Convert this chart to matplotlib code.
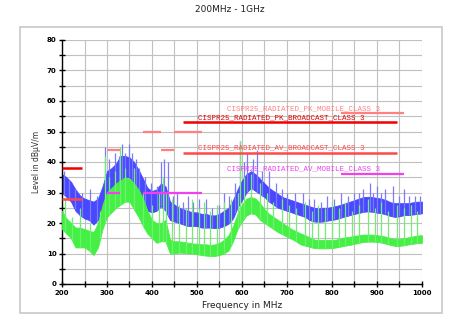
#!/usr/bin/env python3
import numpy as np
import matplotlib
matplotlib.use("Agg")
import matplotlib.pyplot as plt
from matplotlib.patches import Rectangle

# ------------------------------------------------------------------
# Data
# ------------------------------------------------------------------
freq = [200, 210, 220, 230, 240, 250, 260, 270, 280, 290,
        300, 310, 320, 330, 340, 350, 360, 370, 380, 390,
        400, 410, 420, 430, 440, 450, 460, 470, 480, 490,
        500, 510, 520, 530, 540, 550, 560, 570, 580, 590,
        600, 610, 620, 630, 640, 650, 660, 670, 680, 690,
        700, 710, 720, 730, 740, 750, 760, 770, 780, 790,
        800, 810, 820, 830, 840, 850, 860, 870, 880, 890,
        900, 910, 920, 930, 940, 950, 960, 970, 980, 990, 1000]

pk_hi = [36, 35, 33.5, 31, 29, 28, 27.5, 27, 28, 32,
         37, 38, 39.5, 42, 42, 41.5, 40, 37.5, 34.5, 31.5,
         30.5, 31, 33, 32, 27, 26, 25, 24.5, 24, 23.5,
         23.5, 23, 23, 22.5, 22.5, 23, 24, 25, 27.5, 31,
         34, 36, 37, 36, 34.5, 33, 31.5, 30.5, 29.5, 28.5,
         28, 27.5, 27, 26.5, 26, 25.5, 25, 24.8, 25, 25,
         25.3, 25.6, 26, 26.5, 27, 27.5, 28, 28.5, 28.6, 28.5,
         28.2, 28, 27.5, 26.8, 26.5, 26.5, 26.5, 26.5, 26.8, 27, 27]
pk_lo = [30, 28.5, 27, 24, 22.5, 21.5, 21, 19.5, 21, 23,
         27, 30, 32, 34, 35, 35, 33, 30, 26, 24,
         23.5, 24, 25.5, 24, 21, 20.5, 20, 19.5, 19, 19,
         19, 18.5, 18.5, 18.5, 18.3, 18.5, 19, 19.8, 21.5, 25,
         27.5, 30, 31.5, 30.5, 29.5, 28.5, 27, 26, 25, 24.5,
         24, 23.5, 23, 22.5, 22, 21, 20.5, 20.4, 20.5, 20.8,
         21, 21.3, 21.8, 22.2, 22.6, 23, 23.3, 23.7, 23.8, 23.7,
         23.4, 23.2, 22.8, 22.3, 22, 22.2, 22.6, 22.6, 22.8, 23, 23.2]

av_hi = [24, 21.5, 20, 18.5, 18.5, 18, 17.5, 17, 20, 26,
         30, 31.5, 33, 34, 35, 34.5, 33, 31, 28, 24,
         21, 20, 20, 21, 14.5, 14, 14, 13.8, 13.5, 13.3,
         13.2, 13, 13, 12.8, 13, 13.5, 14.5, 16, 19, 23,
         26, 28, 28.5, 28, 26.5, 24.5, 23, 22, 21, 20,
         19, 18, 17.3, 16.6, 16, 15.3, 14.6, 14.4, 14.4, 14.4,
         14.4, 14.6, 15, 15.3, 15.5, 15.8, 16, 16.2, 16.2, 16.2,
         16, 15.8, 15.5, 15, 14.8, 14.8, 15, 15.3, 15.6, 15.9, 16]
av_lo = [18, 16.5, 15, 12, 12, 12, 11, 9.5, 12, 18,
         22, 23.5, 25, 26, 27, 27, 24.5, 22, 19, 16.5,
         15, 13.5, 14, 14, 10, 10, 10.3, 10.2, 10, 10,
         9.8, 9.5, 9.3, 9.2, 9.2, 9.5, 10, 11, 14, 18,
         20.5, 22.5, 23.2, 22.8, 21, 20, 19, 18, 17, 16.3,
         15.5, 14.8, 14, 13, 12.6, 12.2, 11.8, 11.7, 11.7, 11.7,
         11.8, 12, 12.3, 12.6, 12.8, 13.2, 13.5, 13.8, 13.9, 13.9,
         13.8, 13.6, 13.2, 12.8, 12.5, 12.5, 12.7, 13, 13.2, 13.4, 13.5]

# single spikes sticking out of the traces
pk_spike_f = [205, 215, 228, 244, 262, 278, 296, 305, 318, 326, 333, 341,
              348, 356, 364, 372, 384, 398, 412, 420, 427, 436, 446, 455,
              468, 480, 492, 505, 520, 534, 548, 560, 572, 585, 596, 604,
              612, 624, 633, 645, 660, 676, 690, 700, 718, 735, 748, 760,
              776, 790, 805, 820, 835, 848, 860, 870, 884, 892, 900, 910,
              918, 935, 948, 960, 972, 985, 995]
pk_spike_top = [37, 34, 31, 30, 31, 29, 45, 41, 43, 42, 46, 43,
                46, 43, 41, 38, 35, 33, 32, 40, 41, 40, 29, 30,
                27, 29, 27, 28, 28, 25, 26, 30, 29, 33, 47, 40,
                43, 41, 44, 37, 37, 33, 31, 30, 30, 30, 28, 28,
                27, 29, 28, 30, 29, 30, 30, 31, 33, 30, 32, 30,
                31, 32, 29, 31, 29, 29, 29]

av_spike_f = [207, 222, 240, 262, 285, 296, 305, 318, 330, 340, 360, 380,
              400, 415, 425, 432, 445, 460, 475, 490, 505, 515, 530, 545,
              560, 575, 590, 596, 605, 620, 640, 655, 670, 690, 705, 720,
              740, 755, 770, 785, 800, 815, 830, 845, 860, 880, 895, 910,
              925, 945, 960, 975, 990]
av_spike_top = [28, 22, 25, 20, 24, 42, 35, 37, 45, 38, 38, 30,
                26, 30, 35, 30, 28, 26, 25, 28, 25, 27, 24, 26,
                27, 28, 30, 47, 35, 36, 33, 30, 27, 28, 26, 25,
                27, 24, 26, 25, 27, 25, 27, 24, 26, 28, 25, 27,
                24, 26, 25, 26, 24]

# limit lines: (start MHz, stop MHz, level dB)
pk_broadcast = [(200, 245, 38), (468, 944, 53)]
av_broadcast = [(200, 245, 28), (468, 944, 43)]
pk_mobile = [(300, 330, 44), (380, 420, 50), (420, 450, 44),
             (450, 512, 50), (820, 960, 56)]
av_mobile = [(300, 330, 30), (380, 512, 30), (820, 960, 36)]

xticks = [200, 300, 400, 500, 600, 700, 800, 900, 1000]
yticks = [0, 10, 20, 30, 40, 50, 60, 70, 80]

# ------------------------------------------------------------------
# Plot
# ------------------------------------------------------------------
fig = plt.figure(figsize=(4.6, 3.29), dpi=100)
fig.patches.append(Rectangle((20 / 460, 1 - 313 / 329), 422 / 460, 286 / 329,
                             transform=fig.transFigure, fill=False,
                             edgecolor="#c8c8c8", lw=1.2))
fig.text(0.5, 1 - 10 / 329, "200MHz - 1GHz", ha="center", va="center",
         fontsize=6.5, color="#202020")

ax = fig.add_axes([62 / 460, 1 - 284 / 329, 360 / 460, 244 / 329])

blue = "#4848ff"
green = "#44f044"

ax.fill_between(freq, pk_lo, pk_hi, color=blue, lw=0.6, edgecolor=blue, zorder=2)
ax.vlines(pk_spike_f, np.interp(pk_spike_f, freq, pk_lo), pk_spike_top,
          color="#7a7aff", lw=0.9, zorder=2)
ax.fill_between(freq, av_lo, av_hi, color=green, lw=0.6, edgecolor=green, zorder=3)
ax.vlines(av_spike_f, np.interp(av_spike_f, freq, av_lo), av_spike_top,
          color="#70f070", lw=0.9, zorder=3)

for f0, f1, lvl in pk_mobile:
    ax.plot([f0, f1], [lvl, lvl], color="#ff8080", lw=1.6, solid_capstyle="butt", zorder=4)
for f0, f1, lvl in av_mobile:
    ax.plot([f0, f1], [lvl, lvl], color="#f040f0", lw=1.6, solid_capstyle="butt", zorder=4)
for f0, f1, lvl in av_broadcast:
    ax.plot([f0, f1], [lvl, lvl], color="#ff4848", lw=1.8, solid_capstyle="butt", zorder=4)
for f0, f1, lvl in pk_broadcast:
    ax.plot([f0, f1], [lvl, lvl], color="#f00000", lw=1.8, solid_capstyle="butt", zorder=4)

mono = dict(family="Liberation Mono", fontsize=5.4, va="center", zorder=5)
ax.text(567, 57.4, "CISPR25_RADIATED_PK_MOBILE_CLASS 3", color="#ff8080", **mono)
ax.text(502, 54.4, "CISPR25_RADIATED_PK_BROADCAST_CLASS 3", color="#e00000", **mono)
ax.text(502, 44.6, "CISPR25_RADIATED_AV_BROADCAST_CLASS 3", color="#ff4848", **mono)
ax.text(567, 37.7, "CISPR25_RADIATED_AV_MOBILE_CLASS 3", color="#f040f0", **mono)

ax.set_xlim(200, 1000)
ax.set_ylim(0, 80)
ax.set_xticks(xticks)
ax.set_yticks(yticks)
ax.set_xticks(np.arange(250, 1000, 100), minor=True)
ax.set_yticks(np.arange(5, 80, 10), minor=True)
ax.grid(True, which="both", color="#c0c0c0", lw=0.8, zorder=0)
ax.set_axisbelow(True)
for s in ["top", "right"]:
    ax.spines[s].set_visible(False)
ax.spines["left"].set_linewidth(1.0)
ax.spines["bottom"].set_linewidth(1.0)
ax.tick_params(which="major", direction="inout", length=5, width=1.0,
               labelsize=5, pad=1.5)
for lab in ax.get_xticklabels() + ax.get_yticklabels():
    lab.set_fontweight("bold")
ax.tick_params(which="minor", direction="inout", length=4, width=1.0)

ax.set_xlabel("Frequency in MHz", fontsize=6.5, labelpad=4, color="#202020")
ax.set_ylabel("Level in dBµV/m", fontsize=5.5, labelpad=4, color="#303030")

fig.savefig("out.png", dpi=100)
